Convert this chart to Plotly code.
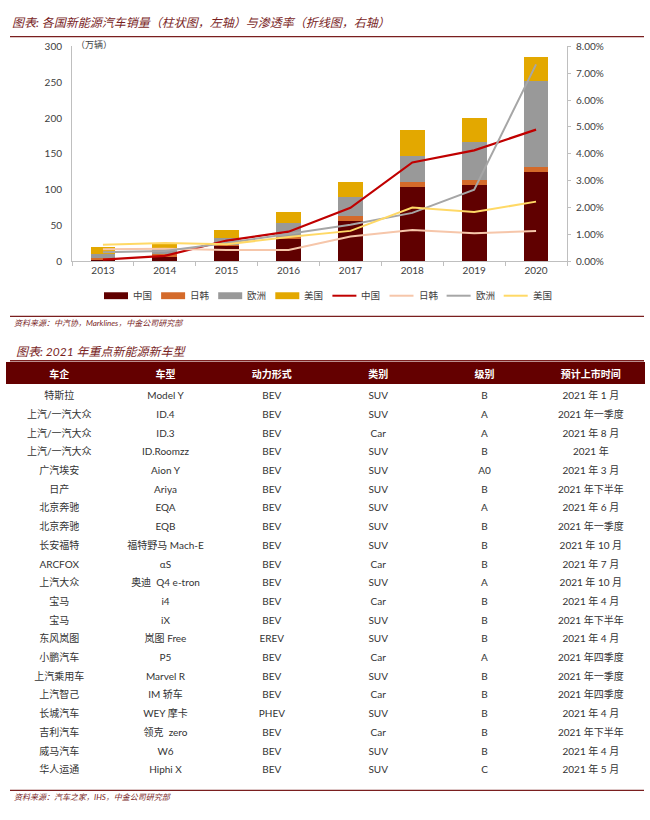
import plotly.graph_objects as go

# ---------------- data ----------------
years = ["2013", "2014", "2015", "2016", "2017", "2018", "2019", "2020"]
sales_china = [2, 6.5, 21, 31, 56, 103, 106, 124]
sales_jk = [2.5, 3, 2, 3, 7, 8, 7, 7.5]
sales_eu = [5.5, 8, 9, 19, 27, 36, 54, 120]
sales_us = [10, 8, 11.5, 16, 20, 36, 33, 34]

pen_china = [0.0006, 0.002, 0.0077, 0.011, 0.0199, 0.0368, 0.0413, 0.049]
pen_jk = [0.0045, 0.0046, 0.0042, 0.0042, 0.0092, 0.0116, 0.0104, 0.0113]
pen_eu = [0.0033, 0.0038, 0.0068, 0.0103, 0.0136, 0.018, 0.0266, 0.0733]
pen_us = [0.0061, 0.0068, 0.0063, 0.009, 0.0113, 0.02, 0.0183, 0.0222]

region_names = ["中国", "日韩", "欧洲", "美国"]

tbl_header = ["车企", "车型", "动力形式", "类别", "级别", "预计上市时间"]
tbl_company = ["特斯拉", "上汽/一汽大众", "上汽/一汽大众", "上汽/一汽大众", "广汽埃安", "日产",
               "北京奔驰", "北京奔驰", "长安福特", "ARCFOX", "上汽大众", "宝马", "宝马", "东风岚图",
               "小鹏汽车", "上汽乘用车", "上汽智己", "长城汽车", "吉利汽车", "威马汽车", "华人运通"]
tbl_model = ["Model Y", "ID.4", "ID.3", "ID.Roomzz", "Aion Y", "Ariya", "EQA", "EQB",
             "福特野马 Mach-E", "αS", "奥迪  Q4 e-tron", "i4", "iX", "岚图 Free", "P5", "Marvel R",
             "IM 轿车", "WEY 摩卡", "领克  zero", "W6", "Hiphi X"]
tbl_power = ["BEV", "BEV", "BEV", "BEV", "BEV", "BEV", "BEV", "BEV", "BEV", "BEV", "BEV", "BEV",
             "BEV", "EREV", "BEV", "BEV", "BEV", "PHEV", "BEV", "BEV", "BEV"]
tbl_type = ["SUV", "SUV", "Car", "SUV", "SUV", "SUV", "SUV", "SUV", "SUV", "Car", "SUV", "Car",
            "SUV", "SUV", "Car", "SUV", "Car", "SUV", "Car", "SUV", "SUV"]
tbl_level = ["B", "A", "A", "B", "A0", "B", "A", "B", "B", "B", "A", "B", "B", "B", "A", "B",
             "B", "B", "B", "B", "C"]
tbl_time = ["2021 年 1 月", "2021 年一季度", "2021 年 8 月", "2021 年", "2021 年 3 月", "2021 年下半年",
            "2021 年 6 月", "2021 年一季度", "2021 年 10 月", "2021 年 7 月", "2021 年 10 月",
            "2021 年 4 月", "2021 年下半年", "2021 年 4 月", "2021 年四季度", "2021 年一季度",
            "2021 年四季度", "2021 年 4 月", "2021 年下半年", "2021 年 4 月", "2021 年 5 月"]

# ---------------- styles ----------------
W, H = 650, 820
bar_colors = ["#600000", "#D46A2A", "#999999", "#E3A800"]
line_colors = ["#C00000", "#F6C6AA", "#A6A6A6", "#FFD966"]
line_widths = [2.2, 2, 2, 2]
FONT = "Lato, 'Noto Sans CJK SC', sans-serif"
RED = "#7A1F1F"
HDR = "#640000"


def py(px):
    return 1 - px / H


def pxx(px):
    return px / W


fig = go.Figure()

for name, vals, col in zip(region_names, [sales_china, sales_jk, sales_eu, sales_us], bar_colors):
    fig.add_trace(go.Bar(x=years, y=vals, name=name, marker_color=col, marker_line_width=0,
                         width=0.4, showlegend=False))

for name, vals, col, lw in zip(region_names, [pen_china, pen_jk, pen_eu, pen_us], line_colors, line_widths):
    fig.add_trace(go.Scatter(x=years, y=vals, name=name, mode="lines", yaxis="y2",
                             line=dict(color=col, width=lw), showlegend=False))

# table
cells_cols = [tbl_company, tbl_model, tbl_power, tbl_type, tbl_level, tbl_time]
fig.add_trace(go.Table(
    domain=dict(x=[pxx(6), pxx(644)], y=[py(790), py(361)]),
    columnwidth=[1, 1, 1, 1, 1, 1],
    header=dict(values=tbl_header, fill_color=HDR,
                line=dict(color=HDR, width=1), align="center", height=21,
                font=dict(family=FONT, size=10, color="white", weight="bold")),
    cells=dict(values=cells_cols, fill_color="white", line=dict(color="white", width=1),
               align="center", height=18.7,
               font=dict(family=FONT, size=10, color="#333333")),
))

shapes = []
annotations = []

# title lines
for yline in [30, 314, 359, 795]:
    shapes.append(dict(type="line", xref="paper", yref="paper", x0=pxx(10), x1=pxx(644),
                       y0=py(yline), y1=py(yline), line=dict(color=RED, width=1.3)))

annotations.append(dict(xref="paper", yref="paper", x=pxx(10), y=py(16), xanchor="left", yanchor="middle",
                        text="<i>图表: 各国新能源汽车销量（柱状图，左轴）与渗透率（折线图，右轴）</i>",
                        showarrow=False, font=dict(family=FONT, size=12, color=RED)))
annotations.append(dict(xref="paper", yref="paper", x=pxx(12), y=py(321), xanchor="left", yanchor="middle",
                        text="<i>资料来源：中汽协，Marklines，中金公司研究部</i>",
                        showarrow=False, font=dict(family=FONT, size=8, color=RED)))
annotations.append(dict(xref="paper", yref="paper", x=pxx(14), y=py(350), xanchor="left", yanchor="middle",
                        text="<i>图表: 2021 年重点新能源新车型</i>",
                        showarrow=False, font=dict(family=FONT, size=12, color=RED)))
annotations.append(dict(xref="paper", yref="paper", x=pxx(12), y=py(802), xanchor="left", yanchor="middle",
                        text="<i>资料来源：汽车之家，IHS，中金公司研究部</i>",
                        showarrow=False, font=dict(family=FONT, size=8, color=RED)))
annotations.append(dict(xref="paper", yref="paper", x=pxx(74), y=py(38), xanchor="left", yanchor="middle",
                        text="（万辆）", showarrow=False, font=dict(family=FONT, size=9, color="#404040")))

# custom legend
leg_y = 293
for i in range(8):
    x0 = 104 + i * 57.1
    if i < 4:
        shapes.append(dict(type="rect", xref="paper", yref="paper", x0=pxx(x0), x1=pxx(x0 + 24),
                           y0=py(leg_y + 3.5), y1=py(leg_y - 3.5), fillcolor=bar_colors[i],
                           line=dict(width=0)))
    else:
        shapes.append(dict(type="line", xref="paper", yref="paper", x0=pxx(x0), x1=pxx(x0 + 24),
                           y0=py(leg_y), y1=py(leg_y), line=dict(color=line_colors[i - 4], width=2)))
    annotations.append(dict(xref="paper", yref="paper", x=pxx(x0 + 27), y=py(leg_y), xanchor="left",
                            yanchor="middle", text=region_names[i % 4], showarrow=False,
                            font=dict(family=FONT, size=9.5, color="#404040")))

fig.update_layout(
    width=W, height=H, margin=dict(l=0, r=0, t=0, b=0),
    paper_bgcolor="white", plot_bgcolor="white",
    barmode="stack", showlegend=False, hovermode=False,
    font=dict(family=FONT, size=10, color="#404040"),
    xaxis=dict(domain=[pxx(72), pxx(567)], type="category", categoryorder="array", categoryarray=years,
               showline=True, linecolor="#BFBFBF", linewidth=1, ticks="outside", tickson="boundaries",
               ticklen=4, tickcolor="#BFBFBF", showgrid=False, zeroline=False,
               tickfont=dict(size=10, color="#404040"), fixedrange=True),
    yaxis=dict(domain=[py(258), py(40)], range=[0, 300], dtick=50, showline=True, linecolor="#BFBFBF",
               linewidth=1, ticks="", showgrid=False, zeroline=False, ticklabelstandoff=7,
               tickfont=dict(size=10, color="#404040"), fixedrange=True),
    yaxis2=dict(overlaying="y", side="right", anchor="x", range=[0, 0.08], dtick=0.01, tickformat=".2%",
                showline=True, linecolor="#BFBFBF", linewidth=1, ticks="outside", ticklen=3,
                tickcolor="#BFBFBF", showgrid=False, zeroline=False, ticklabelstandoff=3,
                tickfont=dict(size=10, color="#404040"), fixedrange=True),
    shapes=shapes, annotations=annotations,
)

fig.write_html("out.html", config={"displayModeBar": False, "staticPlot": True},
               post_script="document.body.style.margin='0';document.body.style.overflow='hidden';")
